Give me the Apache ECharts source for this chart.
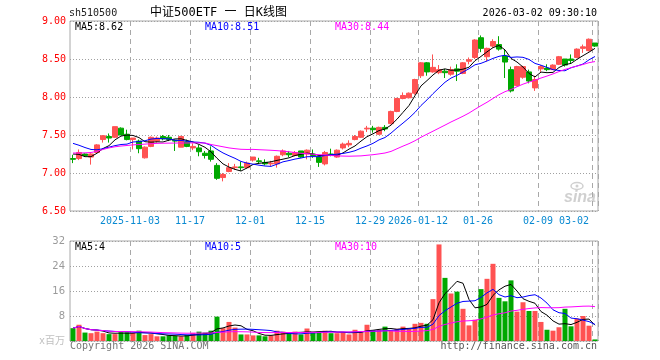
<!DOCTYPE html>
<html><head><meta charset="utf-8">
<script src="https://cdn.jsdelivr.net/npm/echarts@6/dist/echarts.min.js"></script>
<style>html,body{margin:0;padding:0;background:#fff;}#c{width:660px;height:360px;}</style>
</head><body><div id="c"></div>
<script>
const dates = [
'2025-10-20','2025-10-21','2025-10-22','2025-10-23','2025-10-24','2025-10-27','2025-10-28','2025-10-29','2025-10-30','2025-10-31',
'2025-11-03','2025-11-04','2025-11-05','2025-11-06','2025-11-07','2025-11-10','2025-11-11','2025-11-12','2025-11-13','2025-11-14',
'2025-11-17','2025-11-18','2025-11-19','2025-11-20','2025-11-21','2025-11-24','2025-11-25','2025-11-26','2025-11-27','2025-11-28',
'2025-12-01','2025-12-02','2025-12-03','2025-12-04','2025-12-05','2025-12-08','2025-12-09','2025-12-10','2025-12-11','2025-12-12',
'2025-12-15','2025-12-16','2025-12-17','2025-12-18','2025-12-19','2025-12-22','2025-12-23','2025-12-24','2025-12-25','2025-12-26',
'2025-12-29','2025-12-30','2025-12-31','2026-01-05','2026-01-06','2026-01-07','2026-01-08','2026-01-09','2026-01-12','2026-01-13',
'2026-01-14','2026-01-15','2026-01-16','2026-01-19','2026-01-20','2026-01-21','2026-01-22','2026-01-23','2026-01-26','2026-01-27',
'2026-01-28','2026-01-29','2026-01-30','2026-02-02','2026-02-03','2026-02-04','2026-02-05','2026-02-06','2026-02-09','2026-02-10',
'2026-02-11','2026-02-12','2026-02-13','2026-02-24','2026-02-25','2026-02-26','2026-02-27','2026-03-02'];

const opens = [
7.19,7.19,7.25,7.21,7.27,7.44,7.48,7.47,7.59,7.51,
7.44,7.42,7.20,7.35,7.42,7.48,7.47,7.43,7.34,7.41,
7.33,7.33,7.26,7.29,7.10,6.94,7.02,7.07,7.08,7.07,
7.17,7.16,7.14,7.12,7.12,7.24,7.26,7.23,7.29,7.25,
7.25,7.21,7.12,7.25,7.21,7.33,7.37,7.44,7.47,7.58,
7.59,7.51,7.60,7.65,7.81,7.98,7.99,8.05,8.28,8.45,
8.33,8.32,8.34,8.30,8.37,8.31,8.47,8.52,8.78,8.53,
8.67,8.69,8.54,8.36,8.15,8.26,8.33,8.12,8.37,8.38,
8.36,8.43,8.50,8.50,8.52,8.64,8.61,8.71];
const closes = [
7.18,7.27,7.23,7.25,7.37,7.49,7.46,7.61,7.50,7.44,
7.46,7.32,7.34,7.47,7.46,7.45,7.44,7.42,7.48,7.35,
7.35,7.28,7.23,7.18,6.93,6.98,7.07,7.08,7.07,7.13,
7.21,7.15,7.12,7.13,7.22,7.29,7.24,7.27,7.21,7.30,
7.23,7.14,7.27,7.23,7.30,7.38,7.39,7.48,7.55,7.59,
7.57,7.60,7.58,7.81,7.98,8.02,8.05,8.23,8.45,8.33,
8.39,8.36,8.32,8.36,8.34,8.45,8.49,8.75,8.64,8.64,
8.73,8.63,8.46,8.08,8.40,8.40,8.21,8.23,8.40,8.36,
8.42,8.53,8.42,8.48,8.63,8.66,8.76,8.67];
const lows = [
7.13,7.17,7.21,7.11,7.26,7.40,7.40,7.46,7.50,7.43,
7.31,7.26,7.19,7.34,7.40,7.43,7.42,7.29,7.34,7.34,
7.30,7.22,7.19,7.15,6.91,6.89,7.01,7.04,7.03,7.06,
7.15,7.12,7.10,7.09,7.07,7.22,7.21,7.22,7.20,7.18,
7.20,7.08,7.10,7.22,7.20,7.31,7.34,7.43,7.46,7.54,
7.53,7.50,7.55,7.64,7.80,7.97,7.98,8.03,8.25,8.28,
8.32,8.30,8.25,8.28,8.21,8.30,8.43,8.50,8.59,8.47,
8.65,8.61,8.25,8.06,8.14,8.24,8.18,8.08,8.33,8.34,
8.36,8.42,8.40,8.44,8.51,8.58,8.60,8.66];
const highs = [
7.24,7.31,7.26,7.26,7.38,7.50,7.52,7.61,7.60,7.57,
7.46,7.44,7.35,7.48,7.48,7.50,7.50,7.44,7.49,7.44,
7.39,7.37,7.29,7.35,7.13,7.00,7.13,7.12,7.15,7.15,
7.21,7.20,7.18,7.16,7.23,7.31,7.29,7.29,7.29,7.31,
7.31,7.22,7.29,7.32,7.31,7.40,7.43,7.50,7.56,7.62,
7.62,7.61,7.63,7.82,7.99,8.06,8.06,8.24,8.46,8.46,
8.56,8.42,8.37,8.40,8.43,8.46,8.52,8.76,8.81,8.65,
8.76,8.80,8.63,8.40,8.41,8.41,8.36,8.28,8.42,8.43,
8.43,8.54,8.50,8.56,8.64,8.69,8.77,8.71];
// volume, millions
const volumes = [
4.1,5.2,2.7,2.5,3.0,2.5,2.2,2.2,2.8,2.8,
2.6,3.3,1.9,2.2,1.5,1.5,1.8,1.6,1.5,1.9,
2.6,3.0,2.7,3.3,7.8,4.1,6.1,4.3,2.1,2.1,
1.8,1.8,1.5,1.8,3.3,3.0,2.5,3.0,2.1,4.0,
2.8,3.0,3.3,2.5,2.5,2.8,2.1,3.6,2.8,5.2,
3.5,3.5,4.6,3.2,3.9,4.6,3.9,5.5,5.8,5.5,
13.4,30.9,20.2,15.2,15.8,10.3,5.0,6.8,16.6,19.9,
24.7,13.8,12.7,19.4,9.4,12.4,9.6,9.6,6.1,3.6,
3.3,4.4,10.3,4.7,7.2,8.0,4.9,0.5];

// moving-average values at the left edge (windows reach before the shown range)
const ma5Head = [7.25,7.245,7.215,7.215];
const ma10Head = [7.39,7.365,7.335,7.31,7.305,7.32,7.34,7.36,7.375];
const ma30Head = [7.263,7.263,7.265,7.27,7.285,7.31,7.33,7.345,7.355,7.362,
  7.37,7.375,7.38,7.385,7.39,7.392,7.393,7.394,7.395,7.395,
  7.396,7.396,7.395,7.375,7.36,7.345,7.33,7.32,7.312];

const tickDates = ['2025-11-03','2025-11-17','2025-12-01','2025-12-15','2025-12-29','2026-01-12','2026-01-26','2026-02-09','2026-03-02'];
const tickLabels = ['2025-11-03','11-17','12-01','12-15','12-29','2026-01-12','01-26','02-09','03-02'];
const priceTicks = [6.50,7.00,7.50,8.00,8.50,9.00];
const volTicks = [0,8,16,24,32];
const priceMaLabels = ['MA5:8.62','MA10:8.51','MA30:8.44'];
const volMaLabels = ['MA5:4','MA10:5','MA30:10'];

function movingAvg(vals, n, head) {
  const out = [];
  for (let i = 0; i < vals.length; i++) {
    if (head && i < head.length) { out.push(head[i]); continue; }
    const s = Math.max(0, i - n + 1);
    let sum = 0;
    for (let j = s; j <= i; j++) sum += vals[j];
    out.push(+(sum / (i - s + 1)).toFixed(4));
  }
  return out;
}

const RED = '#ff5252', GREEN = '#00a800';
const MONO = "'DejaVu Sans Mono', 'Noto Sans CJK SC', monospace";
const kData = dates.map((d, i) => [opens[i], closes[i], lows[i], highs[i]]);
const volData = volumes.map((v, i) => ({value: v, itemStyle: {color: closes[i] >= opens[i] ? RED : GREEN}}));

const ma5 = movingAvg(closes, 5, ma5Head);
const ma10 = movingAvg(closes, 10, ma10Head);
const ma30 = movingAvg(closes, 30, ma30Head);
const vma5 = movingAvg(volumes, 5);
const vma10 = movingAvg(volumes, 10);
const vma30 = movingAvg(volumes, 30);

const isTick = (idx, val) => tickDates.indexOf(val) >= 0;
const vSplit = {show: true, interval: isTick, lineStyle: {color: '#a8a8a8', type: [5, 4], width: 1}};
const hSplit = {show: true, lineStyle: {color: '#a0a0a0', type: [1, 2], width: 1}};

const lineS = (name, data, color, xi, yi) => ({
  name, type: 'line', data, xAxisIndex: xi, yAxisIndex: yi, symbol: 'none', smooth: false,
  lineStyle: {color, width: 1}, itemStyle: {color}, z: 5, silent: true
});

const chart = echarts.init(document.getElementById('c'), null, {renderer: 'canvas'});
chart.setOption({
  animation: false,
  backgroundColor: '#fff',
  grid: [
    {left: 70, width: 528, top: 21, height: 190, show: true, borderColor: '#a8a8a8', borderWidth: 1, backgroundColor: 'transparent'},
    {left: 70, width: 528, top: 241, height: 100, show: true, borderColor: '#a8a8a8', borderWidth: 1, backgroundColor: 'transparent'}
  ],
  xAxis: [
    {type: 'category', gridIndex: 0, data: dates, boundaryGap: true,
     axisLine: {show: false}, axisTick: {show: false},
     axisLabel: {show: true, interval: isTick, margin: 5, color: '#0a8ad2', fontFamily: MONO, fontSize: 10,
       padding: [0, 6, 0, 0], alignMaxLabel: 'right',
       formatter: v => tickLabels[tickDates.indexOf(v)] || ''},
     splitLine: vSplit},
    {type: 'category', gridIndex: 1, data: dates, boundaryGap: true,
     axisLine: {show: false}, axisTick: {show: false}, axisLabel: {show: false},
     splitLine: vSplit}
  ],
  yAxis: [
    {type: 'value', gridIndex: 0, min: priceTicks[0], max: priceTicks[priceTicks.length - 1],
     interval: priceTicks[1] - priceTicks[0], scale: true,
     axisLine: {show: false}, axisTick: {show: false},
     axisLabel: {color: '#ff0000', fontFamily: MONO, fontSize: 10, margin: 4, formatter: v => v.toFixed(2)},
     splitLine: hSplit},
    {type: 'value', gridIndex: 1, min: volTicks[0], max: volTicks[volTicks.length - 1],
     interval: volTicks[1] - volTicks[0],
     axisLine: {show: false}, axisTick: {show: false},
     axisLabel: {color: '#9a9a9a', fontFamily: "'DejaVu Sans', sans-serif", fontSize: 10, margin: 5,
       formatter: v => v === 0 ? '{u|x百万}' : String(v),
       rich: {u: {color: '#c0c0c0', fontSize: 10, fontFamily: "'DejaVu Sans Mono', 'Noto Sans CJK SC', monospace"}}},
     splitLine: hSplit}
  ],
  series: [
    {name: 'K', type: 'candlestick', xAxisIndex: 0, yAxisIndex: 0, data: kData, barWidth: 5,
     itemStyle: {color: RED, color0: GREEN, borderColor: RED, borderColor0: GREEN, borderWidth: 1}, z: 3, silent: true},
    lineS('MA5', ma5, '#000000', 0, 0),
    lineS('MA10', ma10, '#0000ff', 0, 0),
    lineS('MA30', ma30, '#ff00ff', 0, 0),
    {name: 'VOL', type: 'bar', xAxisIndex: 1, yAxisIndex: 1, data: volData, barWidth: 5, z: 3, silent: true},
    lineS('VMA5', vma5, '#000000', 1, 1),
    lineS('VMA10', vma10, '#0000ff', 1, 1),
    lineS('VMA30', vma30, '#ff00ff', 1, 1)
  ],
  graphic: [
    {type: 'text', x: 69, y: 13, style: {text: 'sh510500', fill: '#222', font: '10px ' + MONO, verticalAlign: 'middle'}},
    {type: 'text', x: 150, y: 13, style: {text: '中证500ETF 一 日K线图', fill: '#000', font: "12px 'DejaVu Sans Mono', 'Noto Sans CJK SC', monospace", verticalAlign: 'middle'}},
    {type: 'text', x: 597, y: 13, style: {text: '2026-03-02 09:30:10', fill: '#000', font: '10px ' + MONO, align: 'right', verticalAlign: 'middle'}},
    {type: 'text', x: 75, y: 27, style: {text: priceMaLabels[0], fill: '#000', font: '10px ' + MONO, verticalAlign: 'middle'}, z: 10},
    {type: 'text', x: 205, y: 27, style: {text: priceMaLabels[1], fill: '#0000ff', font: '10px ' + MONO, verticalAlign: 'middle'}, z: 10},
    {type: 'text', x: 335, y: 27, style: {text: priceMaLabels[2], fill: '#ff00ff', font: '10px ' + MONO, verticalAlign: 'middle'}, z: 10},
    {type: 'text', x: 75, y: 247, style: {text: volMaLabels[0], fill: '#000', font: '10px ' + MONO, verticalAlign: 'middle'}, z: 10},
    {type: 'text', x: 205, y: 247, style: {text: volMaLabels[1], fill: '#0000ff', font: '10px ' + MONO, verticalAlign: 'middle'}, z: 10},
    {type: 'text', x: 335, y: 247, style: {text: volMaLabels[2], fill: '#ff00ff', font: '10px ' + MONO, verticalAlign: 'middle'}, z: 10},
    {type: 'text', x: 70, y: 346, style: {text: 'Copyright 2026 SINA.COM', fill: '#777', font: '10px ' + MONO, verticalAlign: 'middle'}},
    {type: 'text', x: 597, y: 346, style: {text: 'http://finance.sina.com.cn', fill: '#555', font: '10px ' + MONO, align: 'right', verticalAlign: 'middle'}},
    {type: 'text', x: 596, y: 198, style: {text: 'sina', fill: '#d0d0d0', font: "italic bold 16px 'Liberation Sans', sans-serif", align: 'right', verticalAlign: 'middle'}, z: 0},
    {type: 'ellipse', shape: {cx: 577, cy: 186, rx: 6, ry: 3.5}, style: {fill: 'none', stroke: '#d0d0d0', lineWidth: 1.5}, z: 0},
    {type: 'circle', shape: {cx: 577, cy: 186, r: 1.5}, style: {fill: '#d0d0d0'}, z: 0}
  ]
});
</script>
</body></html>
